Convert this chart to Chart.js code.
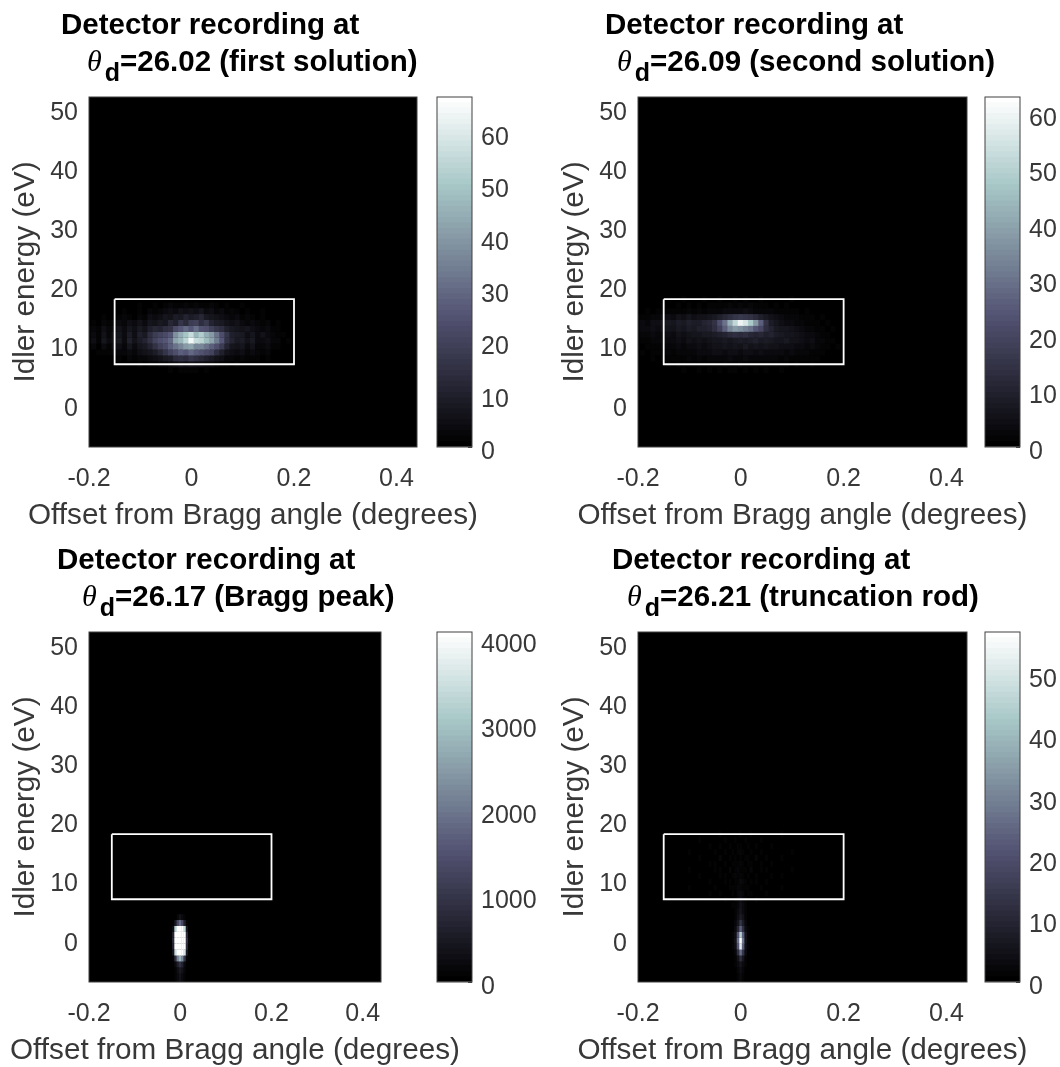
<!DOCTYPE html>
<html>
<head>
<meta charset="utf-8">
<title>Detector recordings</title>
<script src="https://cdn.jsdelivr.net/npm/chart.js@4/dist/chart.umd.min.js"></script>
<style>
  html, body { margin: 0; padding: 0; background: #fff; }
  #stage { position: relative; width: 1060px; height: 1067px; overflow: hidden; font-family: "Liberation Sans", Arial, sans-serif; filter: blur(0.45px); }
  canvas { position: absolute; }
  .title { position: absolute; font-weight: bold; font-size: 29.5px; line-height: 30px; color: #000; white-space: nowrap; }
  .title i { font-family: "Liberation Serif", serif; font-weight: normal; font-size: 30px; margin-right: 3px; }
  .title sub { font-size: 25px; line-height: 0; vertical-align: -10px; }
  .xlabel { position: absolute; width: 520px; text-align: center; font-size: 29.7px; line-height: 30px; color: #383838; white-space: nowrap; }
</style>
</head>
<body>
<div id="stage"></div>
<script>
// --- Data ---
const titleFirstLine = 'Detector recording at';
const titleSecondLines = ['=26.02 (first solution)', '=26.09 (second solution)', '=26.17 (Bragg peak)', '=26.21 (truncation rod)'];
const xAxisLabel = 'Offset from Bragg angle (degrees)';
const yAxisLabel = 'Idler energy (eV)';

const xTickValues = [-0.2, 0, 0.2, 0.4];
const yTickValues = [0, 10, 20, 30, 40, 50];
const colorTicksA = [0, 10, 20, 30, 40, 50, 60];
const colorTicksB = [0, 10, 20, 30, 40, 50, 60];
const colorTicksC = [0, 1000, 2000, 3000, 4000];
const colorTicksD = [0, 10, 20, 30, 40, 50];
const colorMaxes = [66.9, 63, 4094, 57];

const boxX = [-0.15, 0.2, 0.2, -0.15, -0.15];
const boxY = [18, 18, 7, 7, 18];

// columns for the two broad recordings
const offsetsWide = [-0.20, -0.19, -0.18, -0.17, -0.16, -0.15, -0.14,
  -0.13, -0.12, -0.11, -0.10, -0.09, -0.08, -0.07,
  -0.06, -0.05, -0.04, -0.03, -0.02, -0.01, 0,
  0.01, 0.02, 0.03, 0.04, 0.05, 0.06, 0.07,
  0.08, 0.09, 0.10, 0.11, 0.12, 0.13, 0.14,
  0.15, 0.16, 0.17, 0.18, 0.19, 0.20, 0.21];
const energiesWide = [18, 17, 16, 15, 14, 13, 12, 11, 10, 9, 8, 7, 6];

const countsFirst = [
  [0,0,0,0,0,0,1, 0,0,1,0,0,1,0, 1,0,1,1,0,1,1, 0,1,0,1,1,0,0, 1,0,0,1,0,0,0, 1,0,0,0,0,0,0],
  [0,0,0,1,0,0,1, 1,0,1,2,1,1,2, 1,2,3,2,2,3,2, 3,2,2,3,2,1,2, 1,1,2,1,0,1,1, 0,1,0,0,0,0,0],
  [0,0,1,0,1,1,0, 2,1,1,2,1,3,2, 3,4,5,4,6,5,6, 5,7,4,5,3,4,2, 3,2,1,2,1,1,2, 1,0,1,0,0,0,0],
  [0,1,0,2,1,1,2, 3,2,1,3,2,5,4, 5,7,6,9,8,11,9, 10,12,8,7,6,5,4, 3,4,2,3,2,1,2, 1,1,1,0,1,0,0],
  [1,2,1,3,2,3,4, 3,5,4,6,4,7,6, 8,7,12,10,16,13,18, 19,14,17,11,9,8,6, 5,6,4,3,4,3,2, 3,1,2,1,0,1,0],
  [2,3,2,5,3,4,6, 4,7,5,8,6,10,12, 11,14,15,22,26,30,26, 31,25,24,19,16,14,10, 8,7,6,7,5,4,3, 4,2,2,1,1,0,1],
  [2,4,2,6,3,6,7, 4,9,5,10,8,14,18, 20,22,26,38,44,50,56, 46,52,44,40,32,24,16, 10,9,8,5,7,4,6, 4,3,2,2,1,1,0],
  [2,5,2,7,4,6,8, 4,10,6,9,11,15,20, 23,26,30,42,46,54,64, 56,54,48,42,34,26,15, 11,8,9,6,8,4,4, 5,3,3,1,2,0,1],
  [1,3,1,4,2,5,5, 3,7,4,7,8,11,15, 19,22,28,32,36,40,42, 36,36,32,28,24,18,11, 7,6,7,4,6,3,3, 4,2,2,1,1,0,0],
  [1,1,2,2,2,3,3, 3,4,3,5,6,7,9, 12,16,20,24,28,26,30, 27,25,22,20,14,10,6, 5,4,5,3,4,3,2, 3,1,1,1,0,0,0],
  [0,1,0,1,1,1,2, 1,3,2,3,3,4,5, 6,8,9,13,14,13,16, 14,12,10,8,6,5,3, 3,2,3,2,2,2,1, 2,1,1,0,0,0,0],
  [0,0,0,0,1,0,1, 1,1,1,2,1,2,2, 3,3,4,5,6,5,6, 5,5,4,4,3,2,2, 1,2,1,1,1,1,1, 1,0,0,0,0,0,0],
  [0,0,0,0,0,0,0, 0,1,0,1,0,1,1, 1,1,2,1,2,2,2, 2,1,2,1,1,1,0, 1,0,1,0,0,0,0, 0,0,0,0,0,0,0]
];

const countsSecond = [
  [0,0,0,0,0,0,0, 0,0,1,0,0,0,1, 0,0,1,0,0,1,0, 1,0,0,1,0,0,0, 0,0,1,0,0,0,0, 0,0,0,0,0,0,0],
  [0,0,0,0,0,1,0, 0,1,0,1,0,1,0, 1,1,1,1,2,1,2, 1,2,1,1,1,0,1, 0,1,0,0,0,0,0, 0,0,0,0,0,0,0],
  [0,0,1,0,1,1,1, 1,1,1,2,1,2,1, 2,2,2,3,3,3,3, 4,3,2,2,2,2,1, 1,1,1,1,0,1,0, 0,0,0,0,0,0,0],
  [1,1,1,2,2,3,4, 3,5,4,6,4,5,5, 6,7,9,11,13,15,16, 15,14,12,9,7,5,4, 3,2,2,2,1,1,1, 0,1,0,0,0,0,0],
  [2,3,2,4,4,6,7, 6,8,7,9,8,8,10, 11,14,22,30,42,52,60, 56,48,38,26,14,8,6, 4,3,3,2,2,1,1, 1,0,1,0,0,0,0],
  [2,3,3,4,3,5,6, 5,7,6,8,7,9,9, 10,13,18,26,34,38,36, 33,30,24,20,13,10,7, 6,6,5,4,3,2,2, 1,1,0,1,0,0,0],
  [1,2,2,3,2,3,4, 3,5,4,5,6,6,7, 7,8,9,10,12,13,12, 13,11,10,11,9,10,8, 7,6,6,5,4,3,3, 2,1,1,0,0,0,0],
  [1,1,1,2,2,3,3, 3,4,3,5,4,5,4, 5,6,6,7,6,7,8, 7,8,9,7,8,7,6, 6,7,5,5,4,3,4, 2,2,1,1,0,0,0],
  [1,0,1,1,1,2,2, 2,3,2,3,3,4,3, 4,5,5,6,5,6,5, 7,5,6,5,6,5,5, 4,4,4,3,3,2,3, 2,1,1,0,1,0,0],
  [0,1,0,1,1,1,2, 1,2,2,2,2,3,3, 3,4,4,3,4,4,3, 4,4,3,4,3,3,3, 3,2,3,2,2,2,1, 1,1,0,0,0,0,0],
  [0,0,0,1,0,1,1, 1,1,1,2,1,2,1, 2,2,2,2,3,2,2, 3,2,2,2,2,2,2, 1,2,1,1,1,1,1, 1,0,0,0,0,0,0],
  [0,0,0,0,0,0,1, 0,1,1,1,1,1,1, 1,1,1,2,1,1,2, 1,1,1,1,1,1,1, 1,1,0,1,0,0,1, 0,0,0,0,0,0,0],
  [0,0,0,0,0,0,0, 0,0,1,0,0,1,0, 1,0,1,0,1,1,0, 1,0,1,0,1,0,0, 1,0,0,0,0,0,0, 0,0,0,0,0,0,0]
];

// Bragg peak: narrow column, clipped at the top of the colour range
const offsetsBragg = [-0.02, -0.015, -0.01, -0.005, 0, 0.005, 0.01, 0.015, 0.02];
const energiesBragg = [5, 4, 3, 2, 1, 0, -1, -2, -3, -4, -5, -6, -7];
const countsBragg = [
  [0, 0, 10, 30, 60, 40, 10, 0, 0],
  [0, 10, 60, 180, 320, 200, 70, 10, 0],
  [0, 60, 500, 1300, 1800, 1400, 600, 70, 0],
  [30, 300, 3200, 4094, 4094, 4094, 3400, 400, 40],
  [50, 700, 4094, 4094, 4094, 4094, 4094, 800, 60],
  [60, 800, 4094, 4094, 4094, 4094, 4094, 900, 70],
  [50, 700, 4094, 4094, 4094, 4094, 4094, 800, 60],
  [40, 400, 3400, 4094, 4094, 4094, 3600, 500, 40],
  [10, 100, 900, 2200, 2800, 2300, 1000, 120, 10],
  [0, 30, 220, 600, 900, 640, 240, 30, 0],
  [0, 10, 120, 300, 480, 320, 130, 10, 0],
  [0, 10, 90, 240, 380, 250, 100, 10, 0],
  [0, 10, 80, 210, 340, 220, 80, 10, 0]
];

// Truncation rod: bright centre plus very faint noise inside the box
const offsetsRod = [-0.1, -0.08, -0.06, -0.05, -0.04, -0.03, -0.02, -0.015, -0.01, -0.005, 0,
  0.005, 0.01, 0.015, 0.02, 0.03, 0.04, 0.05, 0.06, 0.08, 0.1];
const energiesRod = [18, 17, 16, 15, 14, 13, 12, 11, 10, 9, 8, 7, 6, 5, 4, 3, 2, 1, 0, -1, -2, -3, -4, -5, -6, -7];
const countsRod = [
  [0,0,0,0,1,0,0,0,0,0,1,0,0,0,1,0,0,0,0,1,0],
  [0,1,0,0,0,1,0,0,1,0,0,0,1,0,0,0,1,0,0,0,0],
  [0,0,1,0,1,0,1,0,0,1,1,0,0,1,0,1,0,0,1,0,0],
  [1,0,0,1,0,1,0,1,0,1,2,1,0,0,1,0,1,0,0,0,1],
  [0,1,0,0,2,0,1,0,1,0,1,0,1,1,0,2,0,1,0,1,0],
  [0,0,1,1,0,1,0,1,1,1,2,1,0,1,1,0,1,0,1,0,0],
  [1,0,0,1,1,0,2,0,1,2,1,1,1,0,2,0,1,1,0,0,1],
  [0,1,0,0,1,1,0,1,2,1,2,1,0,1,0,1,0,0,1,1,0],
  [0,0,1,0,0,1,1,0,1,1,3,2,1,0,1,1,0,1,0,0,0],
  [1,0,0,1,0,0,1,1,1,2,2,1,1,1,0,0,1,0,0,1,0],
  [0,0,1,0,1,0,0,1,0,2,3,2,0,1,1,0,0,1,0,0,0],
  [0,0,0,0,0,1,0,0,1,2,4,2,1,0,0,1,0,0,0,0,0],
  [0,0,0,0,0,0,0,1,1,2,5,3,1,0,0,0,0,0,0,0,0],
  [0,0,0,0,0,0,0,0,1,3,6,3,1,0,0,0,0,0,0,0,0],
  [0,0,0,0,0,0,0,0,1,4,8,5,1,0,0,0,0,0,0,0,0],
  [0,0,0,0,0,0,0,0,2,6,14,8,2,0,0,0,0,0,0,0,0],
  [0,0,0,0,0,0,0,0,3,10,24,12,3,1,0,0,0,0,0,0,0],
  [0,0,0,0,0,0,0,1,4,22,45,24,5,1,0,0,0,0,0,0,0],
  [0,0,0,0,0,0,0,1,5,26,57,28,5,1,0,0,0,0,0,0,0],
  [0,0,0,0,0,0,0,1,4,22,52,24,4,1,0,0,0,0,0,0,0],
  [0,0,0,0,0,0,0,0,2,12,26,14,3,0,0,0,0,0,0,0,0],
  [0,0,0,0,0,0,0,0,1,5,12,6,1,0,0,0,0,0,0,0,0],
  [0,0,0,0,0,0,0,0,1,3,6,3,1,0,0,0,0,0,0,0,0],
  [0,0,0,0,0,0,0,0,0,2,4,2,0,0,0,0,0,0,0,0,0],
  [0,0,0,0,0,0,0,0,0,1,3,1,0,0,0,0,0,0,0,0,0],
  [0,0,0,0,0,0,0,0,0,1,3,1,0,0,0,0,0,0,0,0,0]
];

// --- Layout of the four panels ---
const panels = [
  { left: 89, top: 97, width: 328, barLeft: 437, titleX: 61, titleY: 9, thetaX: 87, offsets: offsetsWide, energies: energiesWide, counts: countsFirst, colorTicks: colorTicksA },
  { left: 638, top: 97, width: 329, barLeft: 985, titleX: 605, titleY: 9, thetaX: 617, offsets: offsetsWide, energies: energiesWide, counts: countsSecond, colorTicks: colorTicksB },
  { left: 89, top: 632, width: 292, barLeft: 437, titleX: 57, titleY: 544, thetaX: 82, offsets: offsetsBragg, energies: energiesBragg, counts: countsBragg, colorTicks: colorTicksC },
  { left: 638, top: 632, width: 329, barLeft: 985, titleX: 612, titleY: 544, thetaX: 627, offsets: offsetsRod, energies: energiesRod, counts: countsRod, colorTicks: colorTicksD }
];
const plotHeight = 350;
const barWidth = 35;
const marginTop = 40;
const marginRight = 30;
const textColor = '#383838';
const fontFamily = '"Liberation Sans", Arial, sans-serif';

// MATLAB "bone" colour map, quantised to 64 levels
const boneStops = [
  [0, 0, 0, 0],
  [0.375, 0.328, 0.328, 0.453],
  [0.75, 0.656, 0.781, 0.781],
  [1, 1, 1, 1]
];
const boneColor = (t) => {
  const level = Math.min(63, Math.floor(Math.max(0, t) * 64)) / 63;
  let i = 0;
  while (i < boneStops.length - 2 && level > boneStops[i + 1][0]) i++;
  const a = boneStops[i], b = boneStops[i + 1];
  const f = (level - a[0]) / (b[0] - a[0]);
  const ch = (k) => Math.round(255 * (a[k] + (b[k] - a[k]) * f));
  return `rgb(${ch(1)},${ch(2)},${ch(3)})`;
};

const stage = document.getElementById('stage');

const addCanvas = (left, top, width, height) => {
  const c = document.createElement('canvas');
  c.width = width;
  c.height = height;
  c.style.left = left + 'px';
  c.style.top = top + 'px';
  stage.appendChild(c);
  return c.getContext('2d');
};

const addTexts = (p, second) => {
  const line1 = document.createElement('div');
  line1.className = 'title';
  line1.style.left = p.titleX + 'px';
  line1.style.top = p.titleY + 'px';
  line1.textContent = titleFirstLine;
  stage.appendChild(line1);

  const line2 = document.createElement('div');
  line2.className = 'title';
  line2.style.left = p.thetaX + 'px';
  line2.style.top = (p.titleY + 37) + 'px';
  line2.innerHTML = '<i>θ</i><sub>d</sub>' + second;
  stage.appendChild(line2);

  // the axis title is wider than the plot, and Chart.js squeezes a scale title to fit its scale
  const xl = document.createElement('div');
  xl.className = 'xlabel';
  xl.style.left = (p.left + p.width / 2 - 260) + 'px';
  xl.style.top = (p.top + plotHeight + 52) + 'px';
  xl.textContent = xAxisLabel;
  stage.appendChild(xl);
};

// black plot background and dark frame
const plotFrame = {
  id: 'plotFrame',
  beforeDatasetsDraw(chart) {
    const { ctx, chartArea: a } = chart;
    ctx.save();
    ctx.fillStyle = '#000';
    ctx.fillRect(a.left, a.top, a.width, a.height);
    ctx.restore();
  },
  afterDatasetsDraw(chart) {
    const { ctx, chartArea: a } = chart;
    ctx.save();
    ctx.strokeStyle = '#404040';
    ctx.lineWidth = 1;
    ctx.strokeRect(a.left, a.top, a.width, a.height);
    ctx.restore();
  }
};

const drawHeatmap = (p, max) => {
  const rowSets = p.energies.map((energy, r) => ({
    data: p.offsets.map((x) => ({ x, y: [energy - 0.52, energy + 0.52] })),
    backgroundColor: p.counts[r].map((v) => boneColor(v / max)),
    borderWidth: 0,
    grouped: false,
    barPercentage: 1.2,
    categoryPercentage: 1
  }));
  const box = {
    type: 'scatter',
    data: boxX.map((x, i) => ({ x, y: boxY[i] })),
    showLine: true,
    borderColor: '#ffffff',
    borderWidth: 1.8,
    pointRadius: 0,
    order: -1
  };
  const ctx = addCanvas(p.left - 89, p.top - marginTop, 89 + p.width + marginRight, marginTop + plotHeight + 60);
  new Chart(ctx, {
    type: 'bar',
    data: { datasets: rowSets.concat([box]) },
    plugins: [plotFrame],
    options: {
      responsive: false,
      animation: false,
      events: [],
      layout: { padding: { top: marginTop, right: marginRight } },
      plugins: { legend: { display: false }, tooltip: { enabled: false } },
      scales: {
        x: {
          type: 'linear',
          min: -0.2,
          max: 0.44,
          offset: false,
          grid: { display: false, offset: false, drawTicks: false },
          border: { display: false },
          afterFit: (s) => { s.height = 60; },
          afterBuildTicks: (s) => { s.ticks = xTickValues.map((value) => ({ value })); },
          ticks: {
            padding: 17, color: textColor, maxRotation: 0, autoSkip: false,
            font: { family: fontFamily, size: 25 },
            callback: (v) => String(v)
          }
        },
        y: {
          type: 'linear',
          min: -7,
          max: 52.2,
          grid: { display: false, drawTicks: false },
          border: { display: false },
          afterFit: (s) => { s.width = 89; },
          afterBuildTicks: (s) => { s.ticks = yTickValues.map((value) => ({ value })); },
          ticks: {
            padding: 11, color: textColor, autoSkip: false, labelOffset: 3,
            font: { family: fontFamily, size: 25 },
            callback: (v) => String(v)
          },
          title: {
            display: true, text: yAxisLabel, color: textColor,
            padding: { top: 8, bottom: 0 },
            font: { family: fontFamily, size: 29.7 }
          }
        }
      }
    }
  });
};

const drawColorbar = (p, max) => {
  const step = max / 64;
  const levels = [];
  for (let i = 0; i < 64; i++) {
    levels.push({
      // each level reaches a little under the one below it, so no seam shows between them
      data: [[Math.max(0, (i - 0.3) * step), (i + 1) * step]],
      backgroundColor: boneColor((i + 0.5) / 64),
      borderWidth: 0,
      grouped: false,
      barPercentage: 1,
      categoryPercentage: 1
    });
  }
  const ctx = addCanvas(p.barLeft - 8, p.top - marginTop, 8 + barWidth + 75, marginTop * 2 + plotHeight);
  new Chart(ctx, {
    type: 'bar',
    data: { labels: ['counts'], datasets: levels },
    plugins: [{
      id: 'barFrame',
      afterDraw(chart) {
        const { ctx: c, chartArea: a } = chart;
        c.save();
        c.strokeStyle = '#404040';
        c.lineWidth = 1;
        c.strokeRect(a.left, a.top, a.width, a.height);
        c.restore();
      }
    }],
    options: {
      responsive: false,
      animation: false,
      events: [],
      layout: { padding: { left: 8, top: marginTop, bottom: marginTop } },
      plugins: { legend: { display: false }, tooltip: { enabled: false } },
      scales: {
        x: { display: false },
        y: {
          position: 'right',
          min: 0,
          max,
          grid: { drawOnChartArea: false, drawTicks: true, tickLength: -4, color: '#404040' },
          border: { display: false },
          afterFit: (s) => { s.width = 75; },
          afterBuildTicks: (s) => { s.ticks = p.colorTicks.map((value) => ({ value })); },
          ticks: {
            padding: 13, color: textColor, autoSkip: false, labelOffset: 5,
            font: { family: fontFamily, size: 25 },
            callback: (v) => String(v)
          }
        }
      }
    }
  });
};

panels.forEach((p, i) => {
  drawHeatmap(p, colorMaxes[i]);
  drawColorbar(p, colorMaxes[i]);
  addTexts(p, titleSecondLines[i]);
});
</script>
</body>
</html>
